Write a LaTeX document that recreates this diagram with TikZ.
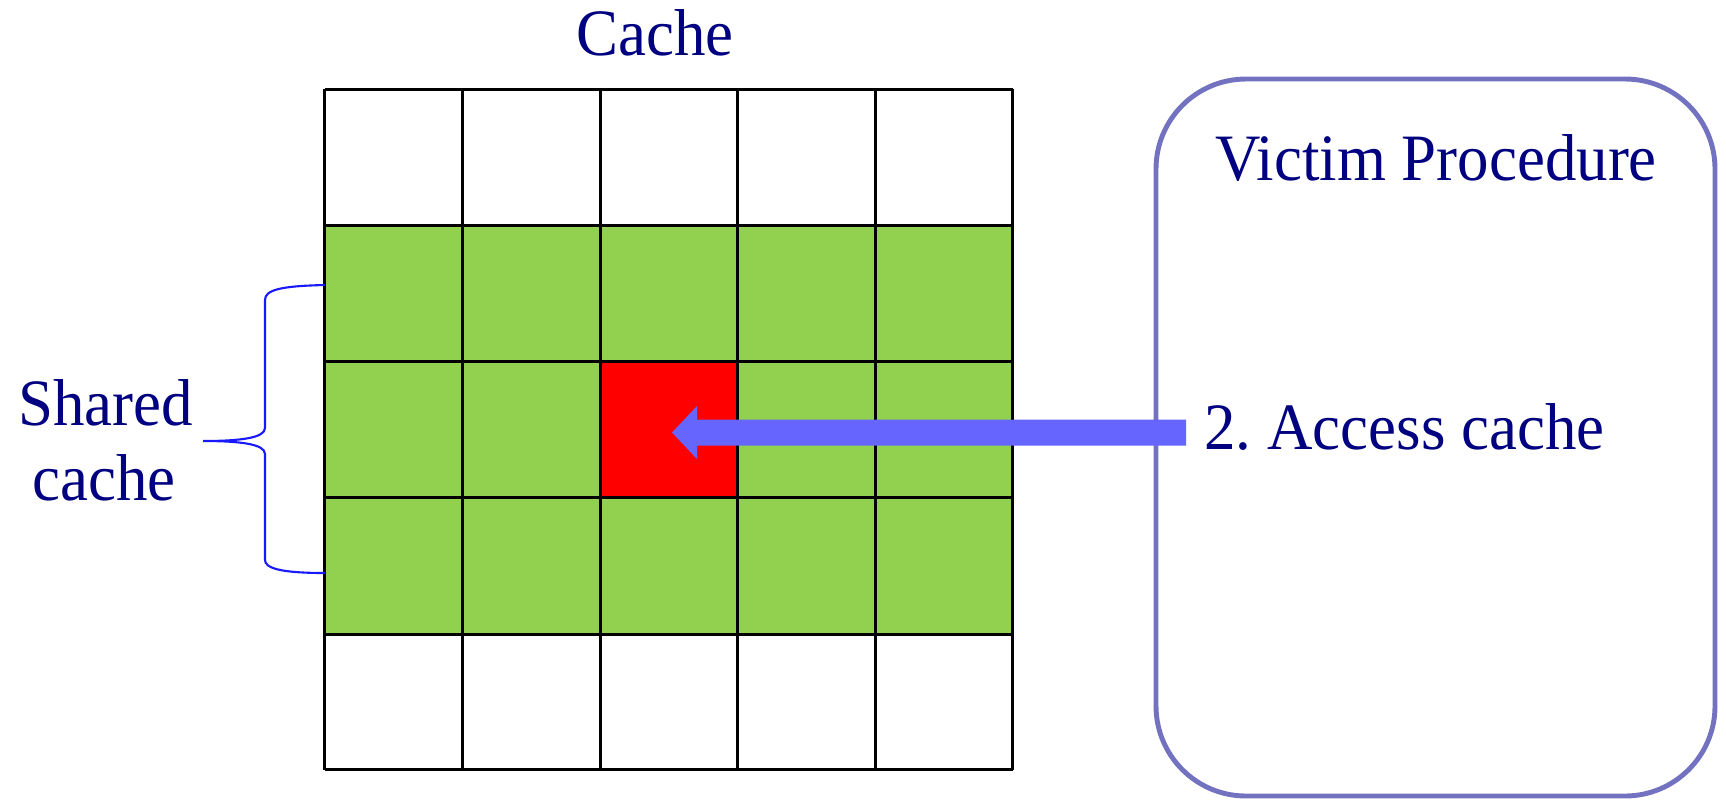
\documentclass[tikz,border=0pt]{standalone}
\usepackage{fontspec}
\setmainfont{Liberation Serif}
\newfontfamily\tnrfont{Liberation Serif}[FakeStretch=0.95]
\definecolor{navytext}{RGB}{0,0,128}
\definecolor{cellgreen}{RGB}{146,208,80}
\definecolor{boxline}{RGB}{114,114,192}
\definecolor{arrowblue}{RGB}{102,102,255}
\definecolor{braceblue}{RGB}{25,25,255}
\begin{document}
\frenchspacing
\begin{tikzpicture}[x=0.02cm,y=-0.02cm,
  lbl/.style={text=navytext, font=\tnrfont\fontsize{37.7}{45}\selectfont, inner sep=0pt},
  gridline/.style={black, line width=1.7pt},
  victimbox/.style={draw=boxline, line width=2.8pt, rounded corners=1.8cm},
  bracestyle/.style={draw=braceblue, line width=1.2pt},
  arrowfill/.style={fill=arrowblue}]
\useasboundingbox (0,0) rectangle (1726,799);
% cells
\fill[cellgreen] (324.7,225.7) rectangle (1012.7,634.1);
\fill[red] (600,361.1) rectangle (737.5,497.6);
\foreach \x in {324.7,462.3,600,737.5,875.1,1012.7}
  \draw[gridline] (\x,89.2) -- (\x,769.5);
\foreach \y in {89.2,225.7,361.1,497.6,634.1,769.5}
  \draw[gridline] (324.7,\y) -- (1012.7,\y);
% victim box
\draw[victimbox] (1156,79) rectangle (1715,796);
% arrow
\coordinate (tip) at (672,432.5);
\fill[arrowfill] (tip) -- (697,406) -- (697,419.5) -- (1186,419.5) -- (1186,445.5) -- (697,445.5) -- (697,459) -- cycle;
% brace
\draw[bracestyle] (325,285) .. controls (280,286) and (265,290) .. (265,300) -- (265,428)
  .. controls (265,438) and (240,441) .. (203,441)
  .. controls (240,441) and (265,444) .. (265,454) -- (265,560)
  .. controls (265,568) and (280,573) .. (325,573);
% labels
\node[lbl, anchor=base] (cache) at (655,55) {Cache};
\node[lbl, anchor=base] (victim) at (1436,180) {Victim Procedure};
\node[lbl, anchor=base west] (access) at (1204,449) {2. Access cache};
\node[lbl, anchor=base] (shared1) at (105.5,425) {Shared};
\node[lbl, anchor=base] (shared2) at (104,500) {cache};
\end{tikzpicture}
\end{document}
